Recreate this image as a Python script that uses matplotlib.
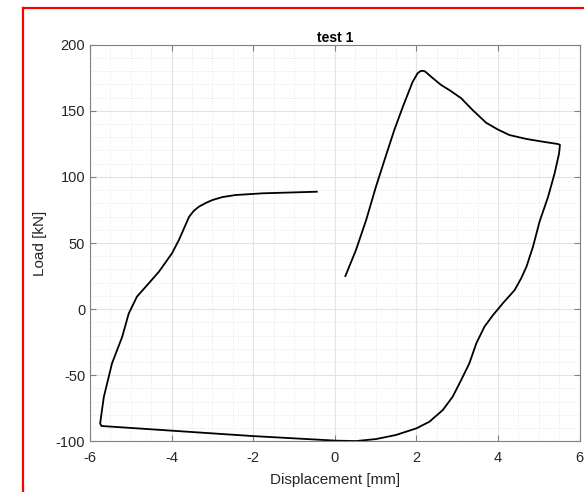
import numpy as np
import matplotlib.pyplot as plt
from matplotlib.lines import Line2D

plt.rcParams["font.family"] = ["Liberation Sans", "DejaVu Sans"]
plt.rcParams["axes.unicode_minus"] = False

# ---- traced load-displacement loop (mm, kN) ----
disp = [0.26, 0.52, 0.77, 1.01, 1.26, 1.46, 1.67, 1.91, 1.98, 2.03, 2.09, 2.14, 2.20, 2.24,
        2.40, 2.61, 2.81, 3.10, 3.38, 3.71, 3.99, 4.28, 4.70, 5.11, 5.47, 5.52,
        5.50, 5.39, 5.23, 5.02, 4.86, 4.70, 4.57, 4.41, 4.12, 3.88, 3.67,
        3.47, 3.30, 3.10, 2.89, 2.65, 2.32, 2.00, 1.50, 1.01, 0.52, 0.03,
        -2.02, -3.82, -5.72,
        -5.75, -5.74, -5.66, -5.46, -5.21, -5.05, -4.85, -4.56, -4.31, -3.99, -3.82,
        -3.57, -3.45, -3.33, -3.15, -3.00, -2.75, -2.43, -1.77, -0.44]
load = [25.0, 44.7, 67.4, 92.6, 116.6, 135.5, 153.1, 172.0, 175.6, 178.4, 179.8, 180.3, 180.0, 179.1,
        174.8, 169.5, 165.7, 159.5, 150.6, 141.0, 136.0, 131.7, 128.7, 126.6, 124.9, 124.2,
        117.9, 102.7, 85.0, 66.1, 47.2, 32.1, 23.3, 14.4, 4.4, -4.5, -13.3,
        -25.9, -41.0, -53.6, -66.3, -76.3, -85.2, -90.2, -95.2, -98.3, -99.8, -99.5,
        -96.0, -92.3, -88.4,
        -86.5, -83.9, -66.3, -41.0, -20.9, -3.3, 9.4, 19.5, 28.3, 42.2, 52.3,
        69.9, 74.5, 77.5, 80.5, 82.5, 84.8, 86.3, 87.6, 88.8]

x_ticks = [-6, -4, -2, 0, 2, 4, 6]
y_ticks = [-100, -50, 0, 50, 100, 150, 200]

fig = plt.figure(figsize=(5.84, 4.92), dpi=100)
ax = fig.add_axes([0.1541, 0.1030, 0.8382, 0.8061])

ax.plot(disp, load, color="black", lw=1.3, solid_joinstyle="round")

ax.set_xlim(-6, 6)
ax.set_ylim(-100, 200)
ax.set_xticks(x_ticks)
ax.set_yticks(y_ticks)
ax.set_xticks(np.arange(-6, 6.01, 0.5), minor=True)
ax.set_yticks(np.arange(-100, 200.1, 10), minor=True)

ax.grid(True, which="major", color="#e3e3e3", lw=0.8)
ax.grid(True, which="minor", color="#dedede", lw=0.6, ls=(0, (1, 2)))
ax.set_axisbelow(True)

ax.tick_params(which="major", direction="in", length=4, top=True, right=True,
               colors="#808080", labelcolor="#262626", labelsize=10.5, width=0.8)
ax.tick_params(axis="x", which="major", pad=7)
ax.tick_params(which="minor", length=0, top=True, right=True)
for s in ax.spines.values():
    s.set_color("#808080")
    s.set_linewidth(0.8)

ax.set_title("test 1", fontsize=10, fontweight="bold", color="black", pad=2)
ax.set_xlabel("Displacement [mm]", fontsize=11, color="#262626", labelpad=6)
ax.set_ylabel("Load [kN]", fontsize=11, color="#262626", labelpad=6)

# red frame (left and top edges visible)
fig.add_artist(Line2D([23 / 584, 23 / 584], [0, 1 - 8 / 492],
                      transform=fig.transFigure, color="red", lw=1.6))
fig.add_artist(Line2D([23 / 584, 1], [1 - 8 / 492, 1 - 8 / 492],
                      transform=fig.transFigure, color="red", lw=1.6))

fig.savefig("out.png", dpi=100)
